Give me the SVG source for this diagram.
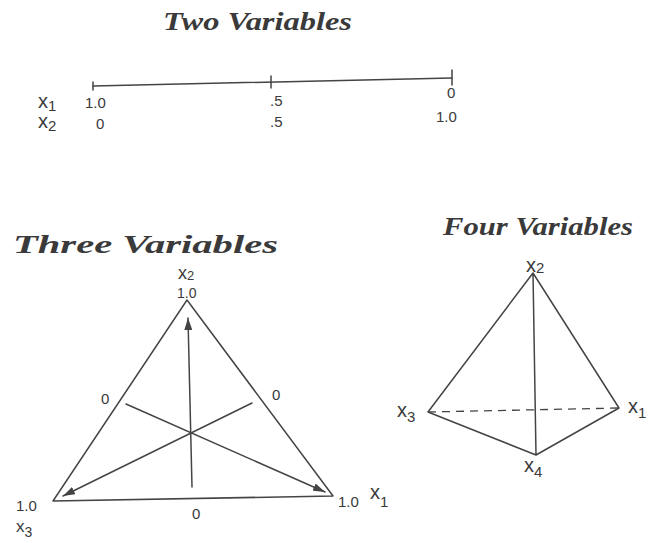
<svg xmlns="http://www.w3.org/2000/svg" width="651" height="543" viewBox="0 0 651 543">
<style>
.title{font-family:"Liberation Serif",serif;font-weight:bold;font-style:italic;font-size:26px;fill:#3a3a3a}
.lbl{font-family:"Liberation Sans",Arial,sans-serif;font-size:15px;fill:#3a3a3a}
.var{font-family:"Liberation Sans",Arial,sans-serif;font-size:20px;fill:#3a3a3a}
.sub{font-size:15px}
.ln{stroke:#444;stroke-width:1.5;fill:none;stroke-linecap:round;stroke-linejoin:round}
.dash{stroke:#444;stroke-width:1.3;fill:none;stroke-dasharray:8 6}
</style>
<defs>
<marker id="arr" viewBox="0 0 12 8" refX="12" refY="4" markerWidth="12" markerHeight="8" markerUnits="userSpaceOnUse" orient="auto">
<path d="M0,0 L12,4 L0,8 Z" fill="#444"/>
</marker>
</defs>
<rect width="651" height="543" fill="#fff"/>

<g id="two-variables">
<text class="title" x="163" y="30" textLength="189" lengthAdjust="spacingAndGlyphs">Two  Variables</text>
<g id="two-line">
<path class="ln" d="M93,86 L452,78"/>
<path class="ln" d="M93,82 L93,90 M271,76 L271,88 M452,70 L452,85"/>
</g>
<text class="var" x="38" y="108">x<tspan class="sub" dy="3">1</tspan></text>
<text class="var" x="38" y="128">x<tspan class="sub" dy="3">2</tspan></text>
<text class="lbl" x="85" y="108">1.0</text>
<text class="lbl" x="96" y="129">0</text>
<text class="lbl" x="270" y="106">.5</text>
<text class="lbl" x="270" y="127">.5</text>
<text class="lbl" x="447" y="98">0</text>
<text class="lbl" x="436" y="122">1.0</text>
</g>

<g id="three-variables">
<text class="title" x="13" y="253" textLength="265" lengthAdjust="spacingAndGlyphs">Three  Variables</text>
<g id="triangle">
<path class="ln" d="M187,300 L333,496 L53,501 Z"/>
</g>
<g id="connectors">
<path class="ln" d="M192,487 L188,318" marker-end="url(#arr)"/>
<path class="ln" d="M126,404 L325,492" marker-end="url(#arr)"/>
<path class="ln" d="M252,403 L63,496" marker-end="url(#arr)"/>
</g>
<text class="var" x="178" y="279" style="font-size:18px">x<tspan style="font-size:13px" dy="1">2</tspan></text>
<text class="lbl" x="177" y="298" style="font-size:14px">1.0</text>
<text class="lbl" x="101" y="404">0</text>
<text class="lbl" x="272" y="400">0</text>
<text class="lbl" x="192" y="519">0</text>
<text class="lbl" x="16" y="511">1.0</text>
<text class="var" x="16" y="532" style="font-size:17px">x<tspan style="font-size:14px" dy="5">3</tspan></text>
<text class="lbl" x="338" y="507">1.0</text>
<text class="var" x="370" y="499">x<tspan class="sub" dy="8">1</tspan></text>
</g>

<g id="four-variables">
<text class="title" x="443" y="235" textLength="190" lengthAdjust="spacingAndGlyphs">Four  Variables</text>
<g id="tetrahedron">
<path class="ln" d="M533,273 L428,412 L536,455 L619,408 Z M533,273 L536,455"/>
<path class="dash" d="M428,412 L619,408"/>
</g>
<text class="var" x="526" y="272">x<tspan class="sub" dy="1">2</tspan></text>
<text class="var" x="397" y="417">x<tspan class="sub" dy="5">3</tspan></text>
<text class="var" x="628" y="413">x<tspan class="sub" dy="5">1</tspan></text>
<text class="var" x="524" y="472">x<tspan class="sub" dy="5">4</tspan></text>
</g>
</svg>
